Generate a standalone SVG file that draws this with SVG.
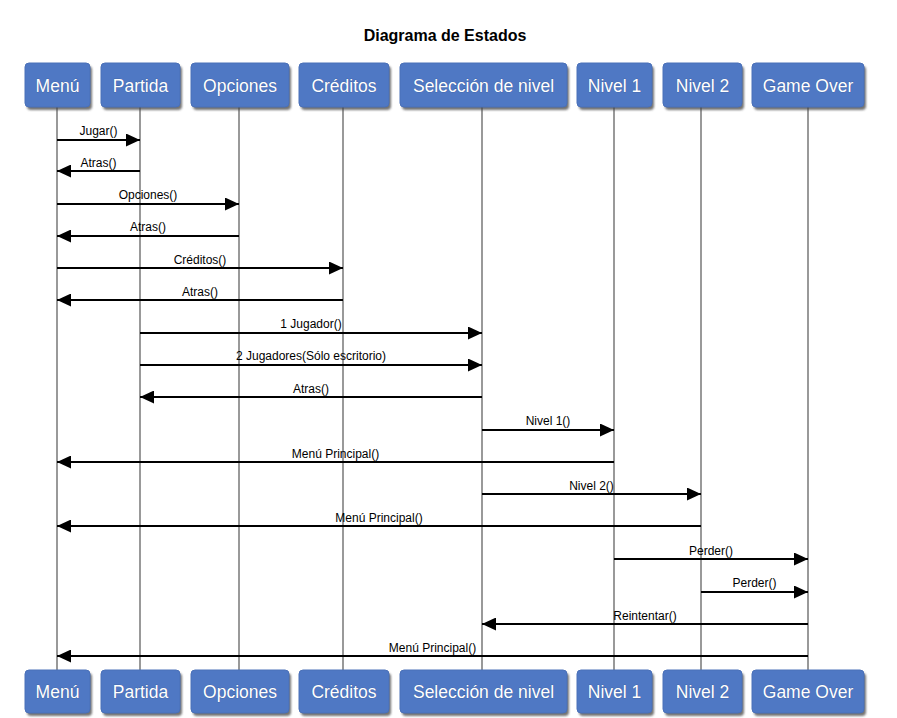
<svg xmlns="http://www.w3.org/2000/svg" width="897" height="718" viewBox="0 0 897 718">
<style>
.title{font-family:"Liberation Sans",Arial,sans-serif;font-size:16px;font-weight:bold;fill:#000;text-anchor:middle}
.box{fill:#4F78C4;stroke:#4A70B8;stroke-width:1}
.shadow{fill:#444;opacity:0.75}
.btxt{font-family:"Liberation Sans",Arial,sans-serif;font-size:17.5px;fill:#fff;text-anchor:middle;stroke:#3a5a96;stroke-width:0.6;paint-order:stroke}
.life{stroke:#999;stroke-width:2;fill:none}
.msg{stroke:#000;stroke-width:2;fill:none;marker-end:url(#ah)}
.lbl{font-family:"Liberation Sans",Arial,sans-serif;font-size:12px;fill:#000;text-anchor:middle}
</style>
<defs>
<marker id="ah" viewBox="0 0 14 13" refX="14" refY="6.5" markerWidth="14" markerHeight="13" markerUnits="userSpaceOnUse" orient="auto">
<path d="M0,0 L14,6.5 L0,13 Z" fill="#000"/>
</marker>
<filter id="blur" x="-10%" y="-10%" width="130%" height="130%"><feGaussianBlur stdDeviation="1.2"/></filter>
</defs>
<rect width="897" height="718" fill="#fff"/>
<text class="title" x="445" y="41">Diagrama de Estados</text>

<g id="lifelines">
<line class="life" x1="57" y1="107" x2="57" y2="670"/>
<line class="life" x1="140" y1="107" x2="140" y2="670"/>
<line class="life" x1="239" y1="107" x2="239" y2="670"/>
<line class="life" x1="343" y1="107" x2="343" y2="670"/>
<line class="life" x1="482" y1="107" x2="482" y2="670"/>
<line class="life" x1="614" y1="107" x2="614" y2="670"/>
<line class="life" x1="701" y1="107" x2="701" y2="670"/>
<line class="life" x1="808" y1="107" x2="808" y2="670"/>
</g>

<g id="menu">
<rect class="shadow" x="27" y="66" width="65" height="44" rx="4" filter="url(#blur)"/>
<rect class="box" x="25" y="63" width="65" height="44" rx="4"/>
<text class="btxt" x="57.5" y="92">Menú</text>
<rect class="shadow" x="27" y="673" width="65" height="43" rx="4" filter="url(#blur)"/>
<rect class="box" x="25" y="670" width="65" height="43" rx="4"/>
<text class="btxt" x="57.5" y="698">Menú</text>
</g>
<g id="partida">
<rect class="shadow" x="103" y="66" width="79" height="44" rx="4" filter="url(#blur)"/>
<rect class="box" x="101" y="63" width="79" height="44" rx="4"/>
<text class="btxt" x="140.5" y="92">Partida</text>
<rect class="shadow" x="103" y="673" width="79" height="43" rx="4" filter="url(#blur)"/>
<rect class="box" x="101" y="670" width="79" height="43" rx="4"/>
<text class="btxt" x="140.5" y="698">Partida</text>
</g>
<g id="opciones">
<rect class="shadow" x="193" y="66" width="98" height="44" rx="4" filter="url(#blur)"/>
<rect class="box" x="191" y="63" width="98" height="44" rx="4"/>
<text class="btxt" x="240" y="92">Opciones</text>
<rect class="shadow" x="193" y="673" width="98" height="43" rx="4" filter="url(#blur)"/>
<rect class="box" x="191" y="670" width="98" height="43" rx="4"/>
<text class="btxt" x="240" y="698">Opciones</text>
</g>
<g id="creditos">
<rect class="shadow" x="301" y="66" width="90" height="44" rx="4" filter="url(#blur)"/>
<rect class="box" x="299" y="63" width="90" height="44" rx="4"/>
<text class="btxt" x="344" y="92">Créditos</text>
<rect class="shadow" x="301" y="673" width="90" height="43" rx="4" filter="url(#blur)"/>
<rect class="box" x="299" y="670" width="90" height="43" rx="4"/>
<text class="btxt" x="344" y="698">Créditos</text>
</g>
<g id="seleccion">
<rect class="shadow" x="402" y="66" width="167" height="44" rx="4" filter="url(#blur)"/>
<rect class="box" x="400" y="63" width="167" height="44" rx="4"/>
<text class="btxt" x="483.5" y="92">Selección de nivel</text>
<rect class="shadow" x="402" y="673" width="167" height="43" rx="4" filter="url(#blur)"/>
<rect class="box" x="400" y="670" width="167" height="43" rx="4"/>
<text class="btxt" x="483.5" y="698">Selección de nivel</text>
</g>
<g id="nivel1">
<rect class="shadow" x="579" y="66" width="75" height="44" rx="4" filter="url(#blur)"/>
<rect class="box" x="577" y="63" width="75" height="44" rx="4"/>
<text class="btxt" x="614.5" y="92">Nivel 1</text>
<rect class="shadow" x="579" y="673" width="75" height="43" rx="4" filter="url(#blur)"/>
<rect class="box" x="577" y="670" width="75" height="43" rx="4"/>
<text class="btxt" x="614.5" y="698">Nivel 1</text>
</g>
<g id="nivel2">
<rect class="shadow" x="665" y="66" width="79" height="44" rx="4" filter="url(#blur)"/>
<rect class="box" x="663" y="63" width="79" height="44" rx="4"/>
<text class="btxt" x="702.5" y="92">Nivel 2</text>
<rect class="shadow" x="665" y="673" width="79" height="43" rx="4" filter="url(#blur)"/>
<rect class="box" x="663" y="670" width="79" height="43" rx="4"/>
<text class="btxt" x="702.5" y="698">Nivel 2</text>
</g>
<g id="gameover">
<rect class="shadow" x="754" y="66" width="112" height="44" rx="4" filter="url(#blur)"/>
<rect class="box" x="752" y="63" width="112" height="44" rx="4"/>
<text class="btxt" x="808" y="92">Game Over</text>
<rect class="shadow" x="754" y="673" width="112" height="43" rx="4" filter="url(#blur)"/>
<rect class="box" x="752" y="670" width="112" height="43" rx="4"/>
<text class="btxt" x="808" y="698">Game Over</text>
</g>

<g id="connectors">
<line class="msg" x1="57" y1="140" x2="140" y2="140"/>
<text class="lbl" x="98.5" y="135">Jugar()</text>
<line class="msg" x1="140" y1="171" x2="57" y2="171"/>
<text class="lbl" x="98.5" y="167">Atras()</text>
<line class="msg" x1="57" y1="204" x2="239" y2="204"/>
<text class="lbl" x="148" y="199">Opciones()</text>
<line class="msg" x1="239" y1="236" x2="57" y2="236"/>
<text class="lbl" x="148" y="231">Atras()</text>
<line class="msg" x1="57" y1="268" x2="343" y2="268"/>
<text class="lbl" x="200" y="264">Créditos()</text>
<line class="msg" x1="343" y1="300" x2="57" y2="300"/>
<text class="lbl" x="200" y="296">Atras()</text>
<line class="msg" x1="140" y1="333" x2="482" y2="333"/>
<text class="lbl" x="311" y="328">1 Jugador()</text>
<line class="msg" x1="140" y1="365" x2="482" y2="365"/>
<text class="lbl" x="311" y="360">2 Jugadores(Sólo escritorio)</text>
<line class="msg" x1="482" y1="397" x2="140" y2="397"/>
<text class="lbl" x="311" y="393">Atras()</text>
<line class="msg" x1="482" y1="430" x2="614" y2="430"/>
<text class="lbl" x="548" y="425">Nivel 1()</text>
<line class="msg" x1="614" y1="462" x2="57" y2="462"/>
<text class="lbl" x="335.5" y="458">Menú Principal()</text>
<line class="msg" x1="482" y1="494" x2="701" y2="494"/>
<text class="lbl" x="591.5" y="490">Nivel 2()</text>
<line class="msg" x1="701" y1="526" x2="57" y2="526"/>
<text class="lbl" x="379" y="522">Menú Principal()</text>
<line class="msg" x1="614" y1="559" x2="808" y2="559"/>
<text class="lbl" x="711" y="555">Perder()</text>
<line class="msg" x1="701" y1="592" x2="808" y2="592"/>
<text class="lbl" x="754.5" y="587">Perder()</text>
<line class="msg" x1="808" y1="624" x2="482" y2="624"/>
<text class="lbl" x="645" y="620">Reintentar()</text>
<line class="msg" x1="808" y1="656" x2="57" y2="656"/>
<text class="lbl" x="432.5" y="652">Menú Principal()</text>
</g>
</svg>
